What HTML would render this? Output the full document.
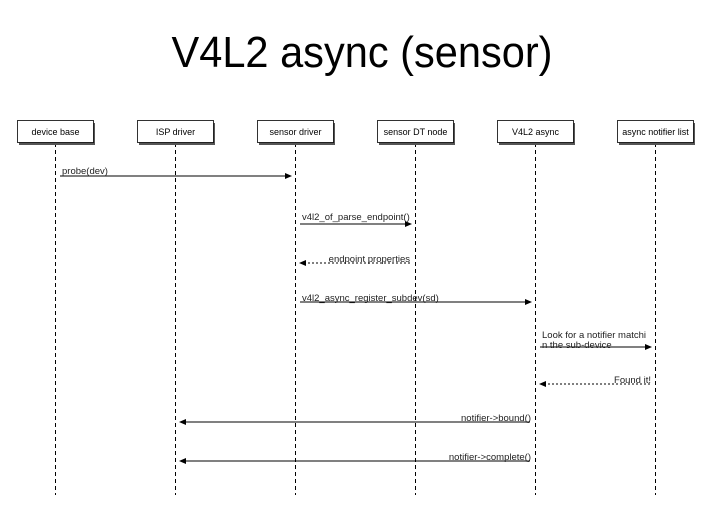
<!DOCTYPE html>
<html><head><style>html,body{margin:0;padding:0;background:#fff}svg{display:block}</style></head>
<body>
<svg width="720" height="524" xmlns="http://www.w3.org/2000/svg" font-family="Liberation Sans, DejaVu Sans, sans-serif">
<rect width="720" height="524" fill="#fff"/>
<text x="362" y="67" font-size="44" text-anchor="middle" textLength="381" lengthAdjust="spacingAndGlyphs" fill="#000">V4L2 async (sensor)</text>
<g stroke="#000" stroke-width="1" stroke-dasharray="4,3">
<line x1="55.5" y1="143" x2="55.5" y2="495"/>
<line x1="175.5" y1="143" x2="175.5" y2="495"/>
<line x1="295.5" y1="143" x2="295.5" y2="495"/>
<line x1="415.5" y1="143" x2="415.5" y2="495"/>
<line x1="535.5" y1="143" x2="535.5" y2="495"/>
<line x1="655.5" y1="143" x2="655.5" y2="495"/>
</g>
<g fill="#555">
<rect x="19" y="123" width="76" height="22"/><rect x="139" y="123" width="76" height="22"/><rect x="259" y="123" width="76" height="22"/>
<rect x="379" y="123" width="76" height="22"/><rect x="499" y="123" width="76" height="22"/><rect x="619" y="123" width="76" height="22"/>
</g>
<g fill="#fff" stroke="#000" stroke-width="0.8">
<rect x="17.5" y="120.5" width="76" height="22"/><rect x="137.5" y="120.5" width="76" height="22"/><rect x="257.5" y="120.5" width="76" height="22"/>
<rect x="377.5" y="120.5" width="76" height="22"/><rect x="497.5" y="120.5" width="76" height="22"/><rect x="617.5" y="120.5" width="76" height="22"/>
</g>
<g font-size="9" text-anchor="middle" fill="#000">
<text x="55.5" y="135">device base</text><text x="175.5" y="135">ISP driver</text><text x="295.5" y="135">sensor driver</text>
<text x="415.5" y="135">sensor DT node</text><text x="535.5" y="135">V4L2 async</text><text x="655.5" y="135">async notifier list</text>
</g>
<g stroke="#000" stroke-width="1" fill="none">
<line x1="60" y1="176" x2="286" y2="176"/>
<line x1="300" y1="224" x2="406" y2="224"/>
<line x1="304" y1="263" x2="410" y2="263" stroke-dasharray="2,2"/>
<line x1="300" y1="302" x2="526" y2="302"/>
<line x1="540" y1="347" x2="646" y2="347"/>
<line x1="544" y1="384" x2="650" y2="384" stroke-dasharray="2,2"/>
<line x1="184" y1="422" x2="530" y2="422"/>
<line x1="184" y1="461" x2="530" y2="461"/>
</g>
<g fill="#000">
<polygon points="292,176 285,173 285,179"/>
<polygon points="412,224 405,221 405,227"/>
<polygon points="299,263 306,260 306,266"/>
<polygon points="532,302 525,299 525,305"/>
<polygon points="652,347 645,344 645,350"/>
<polygon points="539,384 546,381 546,387"/>
<polygon points="179,422 186,419 186,425"/>
<polygon points="179,461 186,458 186,464"/>
</g>
<g font-size="9.5" fill="#222">
<text x="62" y="174">probe(dev)</text>
<text x="302" y="220">v4l2_of_parse_endpoint()</text>
<text x="410" y="262" text-anchor="end">endpoint properties</text>
<text x="302" y="301">v4l2_async_register_subdev(sd)</text>
<text x="542" y="338">Look for a notifier matchi</text>
<text x="542" y="348">n the sub-device</text>
<text x="651" y="383" text-anchor="end">Found it!</text>
<text x="531" y="421" text-anchor="end">notifier-&gt;bound()</text>
<text x="531" y="460" text-anchor="end">notifier-&gt;complete()</text>
</g>
</svg>
</body></html>
